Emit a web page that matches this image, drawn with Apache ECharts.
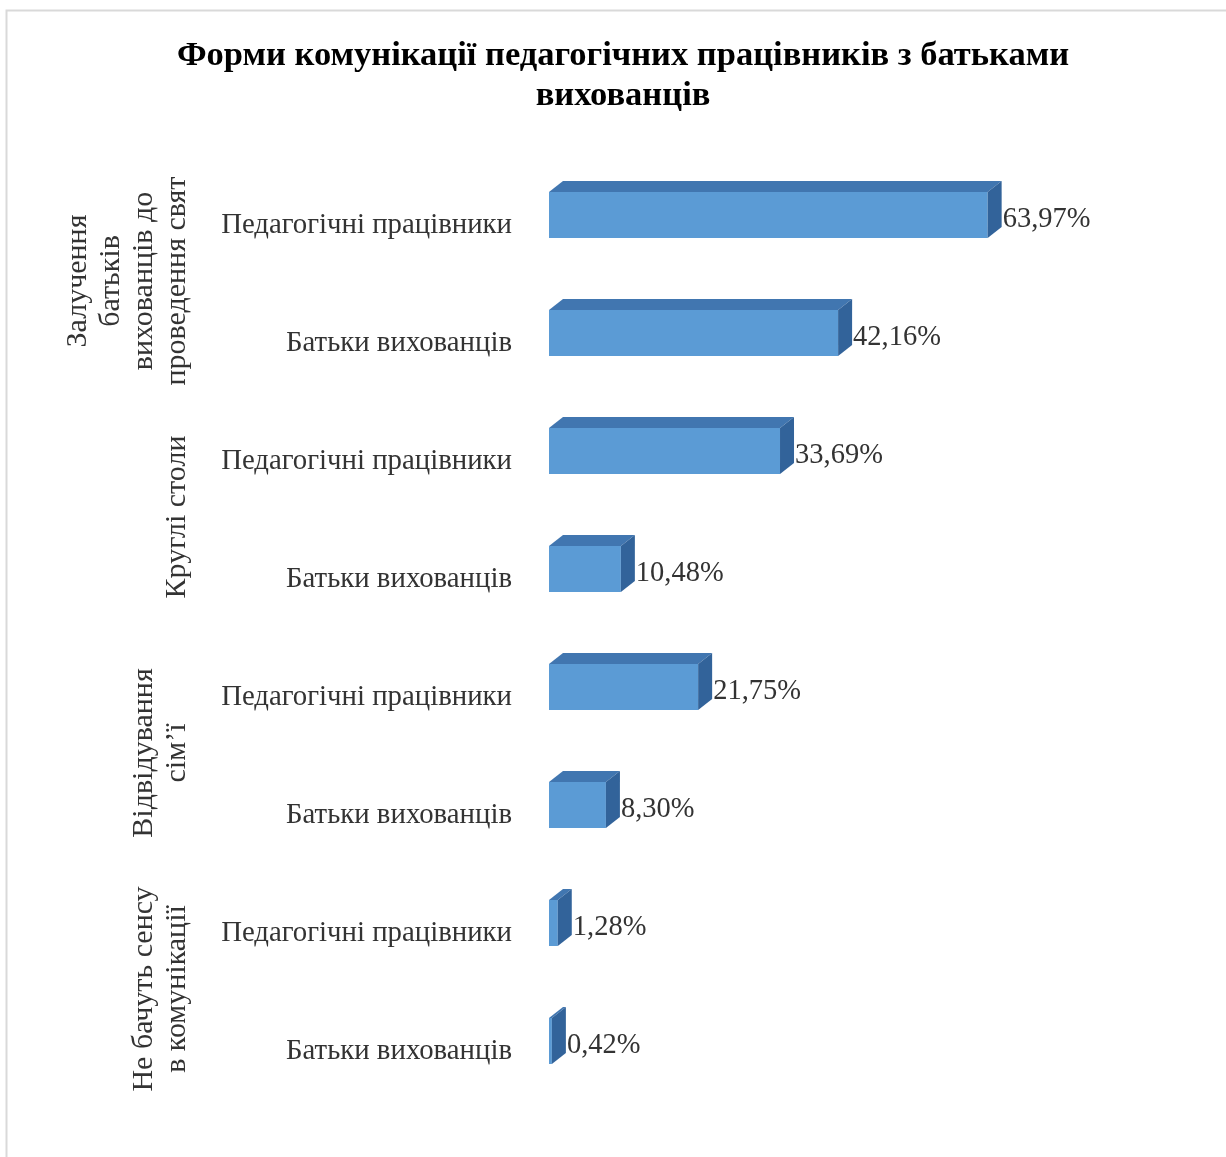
<!DOCTYPE html>
<html>
<head>
<meta charset="utf-8">
<script src="https://cdn.jsdelivr.net/npm/echarts@6/dist/echarts.min.js"></script>
<style>
html,body{margin:0;padding:0;background:#fff;}
#main{width:1226px;height:1157px;}
</style>
</head>
<body>
<div id="main"></div>
<script>
const titleLines = ['Форми комунікації педагогічних працівників з батьками', 'вихованців'];
const categories = [
  'Педагогічні працівники', 'Батьки вихованців',
  'Педагогічні працівники', 'Батьки вихованців',
  'Педагогічні працівники', 'Батьки вихованців',
  'Педагогічні працівники', 'Батьки вихованців'
];
const values = [63.97, 42.16, 33.69, 10.48, 21.75, 8.30, 1.28, 0.42];
const valueLabels = ['63,97%', '42,16%', '33,69%', '10,48%', '21,75%', '8,30%', '1,28%', '0,42%'];
const groups = [
  'Залучення\nбатьків\nвихованців до\nпроведення свят',
  'Круглі столи',
  'Відвідування\nсім’ї',
  'Не бачуть сенсу\nв комунікації'
];

const FONT = '"Liberation Serif", "Times New Roman", serif';
const chart = echarts.init(document.getElementById('main'), null, {renderer: 'canvas'});

const BAR_H = 46, DX = 14, DY = -11;

function renderBar(params, api) {
  const idx = api.value(0);
  const val = api.value(1);
  const p0 = api.coord([0, idx]);
  const p1 = api.coord([val, idx]);
  const x0 = p0[0], x1 = p1[0], cy = p0[1];
  const y = cy - BAR_H / 2;
  const h = BAR_H;
  return {
    type: 'group',
    children: [
      {type: 'rect', shape: {x: x0, y: y, width: x1 - x0, height: h},
        style: {fill: '#5b9bd5'}},
      {type: 'polygon', shape: {points: [[x0, y], [x0 + DX, y + DY], [x1 + DX, y + DY], [x1, y]]},
        style: {fill: '#4176b0'}},
      {type: 'polygon', shape: {points: [[x1, y], [x1 + DX, y + DY], [x1 + DX, y + DY + h], [x1, y + h]]},
        style: {fill: '#32639a'}},
      {type: 'text', x: x1 + DX + 1, y: cy + 5,
        style: {text: valueLabels[idx], fill: '#333333', font: '28.5px ' + FONT,
          align: 'left', verticalAlign: 'middle'}}
    ]
  };
}

function renderGroup(params, api) {
  const g = api.value(0);
  const a = api.coord([0, 2 * g]);
  const b = api.coord([0, 2 * g + 1]);
  const cy = (a[1] + b[1]) / 2 + 7;
  return {
    type: 'text',
    x: 194, y: cy,
    rotation: Math.PI / 2,
    style: {text: groups[g], fill: '#333333', font: '30px ' + FONT,
      align: 'center', verticalAlign: 'bottom', lineHeight: 33}
  };
}

chart.setOption({
  backgroundColor: '#ffffff',
  animation: false,
  graphic: [
    {type: 'polyline', shape: {points: [[6.5, 1200], [6.5, 10.5], [1300, 10.5]]},
      style: {stroke: '#d9d9d9', lineWidth: 2, fill: null}, z: 0},
    {type: 'text', x: 623, y: 56,
      style: {text: titleLines[0], font: 'bold 34.5px ' + FONT, fill: '#000', align: 'center', verticalAlign: 'middle'}},
    {type: 'text', x: 623, y: 96,
      style: {text: titleLines[1], font: 'bold 34.5px ' + FONT, fill: '#000', align: 'center', verticalAlign: 'middle'}}
  ],
  grid: {left: 549, right: 197, top: 156, bottom: 57, containLabel: false},
  xAxis: {type: 'value', min: 0, max: 70, show: false},
  yAxis: {
    type: 'category', data: categories, inverse: true,
    axisLine: {show: false}, axisTick: {show: false}, splitLine: {show: false},
    axisLabel: {
      margin: 37,
      formatter: function (v) { return '{a|' + v + '}'; },
      rich: {a: {fontFamily: FONT, fontSize: 28.8, color: '#333333', padding: [20, 0, 0, 0]}}
    }
  },
  series: [
    {type: 'custom', renderItem: renderBar, data: values.map((v, i) => [i, v]),
      encode: {x: 1, y: 0}},
    {type: 'custom', renderItem: renderGroup, data: groups.map((g, i) => [i]),
      encode: {y: 0}, silent: true}
  ]
});
</script>
</body>
</html>
